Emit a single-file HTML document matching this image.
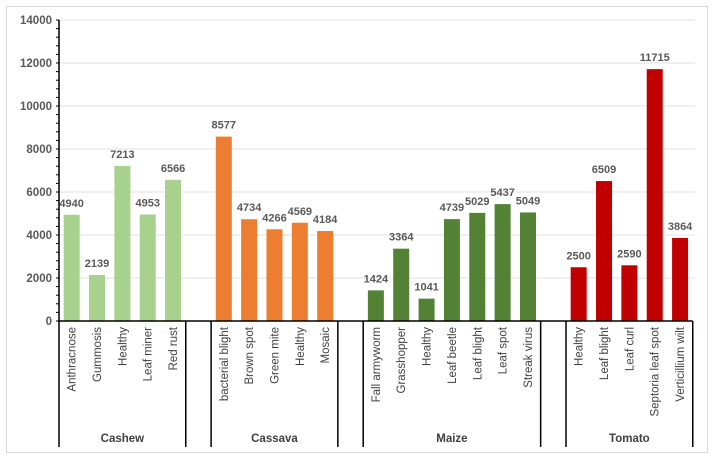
<!DOCTYPE html>
<html><head><meta charset="utf-8"><style>
body{margin:0;background:#fff;}
svg{display:block;font-family:"Liberation Sans",Calibri,sans-serif;}
</style></head><body>
<svg id="chart" width="714" height="459"></svg>
<script>
const groups=["Cashew","Cassava","Maize","Tomato"];
const groupColors=["#a9d18e","#ed7d31","#548235","#c00000"];
const categories=[
["Anthracnose","Gummosis","Healthy","Leaf miner","Red rust"],
["bacterial blight","Brown spot","Green mite","Healthy","Mosaic"],
["Fall armyworm","Grasshopper","Healthy","Leaf beetle","Leaf blight","Leaf spot","Streak virus"],
["Healthy","Leaf blight","Leaf curl","Septoria leaf spot","Verticillium wilt"]];
const values=[
[4940,2139,7213,4953,6566],
[8577,4734,4266,4569,4184],
[1424,3364,1041,4739,5029,5437,5049],
[2500,6509,2590,11715,3864]];
const yTicks=[0,2000,4000,6000,8000,10000,12000,14000];
const yMax=14000;

const NS="http://www.w3.org/2000/svg";
const svg=document.getElementById('chart');
function el(t,a,p){const e=document.createElementNS(NS,t);for(const k in a)e.setAttribute(k,a[k]);(p||svg).appendChild(e);return e;}
const X0=59,SLOT=25.35,Y0=321,Y1=20,BOTTOM=447;
const yScale=v=>Y0-(v/yMax)*(Y0-Y1);
const xSlot=i=>X0+i*SLOT;

const border=el('rect',{x:6.5,y:6.5,width:701,height:446,fill:'none',stroke:'#d9d9d9'});



yTicks.forEach(t=>{
  const y=yScale(t);
  if(t>0){const g=el('line',{x1:X0,x2:695,y1:y,y2:y,stroke:'#e0e0e0','stroke-width':1});
  
  }
  const tx=el('text',{x:52,y:y+4,'text-anchor':'end','font-size':11.5,'font-weight':'bold',fill:'#595959'});
  tx.textContent=t;
  
  
});
for(let v=0;v<=yMax;v+=400){
  const y=yScale(v);
  const m=el('line',{x1:X0-3,x2:X0,y1:y,y2:y,stroke:'#000','stroke-width':1});
  
  
}

let slot=0;
const seps=[X0];
groups.forEach((g,gi)=>{
  const start=slot;
  categories[gi].forEach((c,ci)=>{
    const cx=xSlot(slot+0.5);
    const v=values[gi][ci];
    const b=el('rect',{x:cx-8,y:yScale(v),width:16,height:Y0-yScale(v),fill:groupColors[gi]});
    
    
    const lab=el('text',{x:cx,y:yScale(v)-8,'text-anchor':'middle','font-size':11,'font-weight':'bold',fill:'#595959'});
    lab.textContent=v;
    
    
    const cl=el('text',{x:0,y:0,'text-anchor':'end','font-size':11.5,fill:'#404040',transform:`translate(${cx+4},327) rotate(-90)`});
    cl.textContent=c;
    
    
    slot++;
  });
  const end=slot;
  const gl=el('text',{x:(xSlot(start)+xSlot(end))/2,y:442,'text-anchor':'middle','font-size':11.5,'font-weight':'bold',fill:'#404040'});
  gl.textContent=g;
  
  
  if(gi>0) seps.push(xSlot(start));
  seps.push(xSlot(end));
  slot++;
});
seps.forEach(x=>{
  const l=el('line',{x1:x,x2:x,y1:Y0,y2:BOTTOM,stroke:'#000','stroke-width':1.5});
  
  
});
const xa=el('line',{x1:X0,x2:xSlot(25),y1:Y0,y2:Y0,stroke:'#000','stroke-width':1.5});


const ya=el('line',{x1:X0,x2:X0,y1:Y1,y2:Y0,stroke:'#000','stroke-width':1.5});


</script>
</body></html>
